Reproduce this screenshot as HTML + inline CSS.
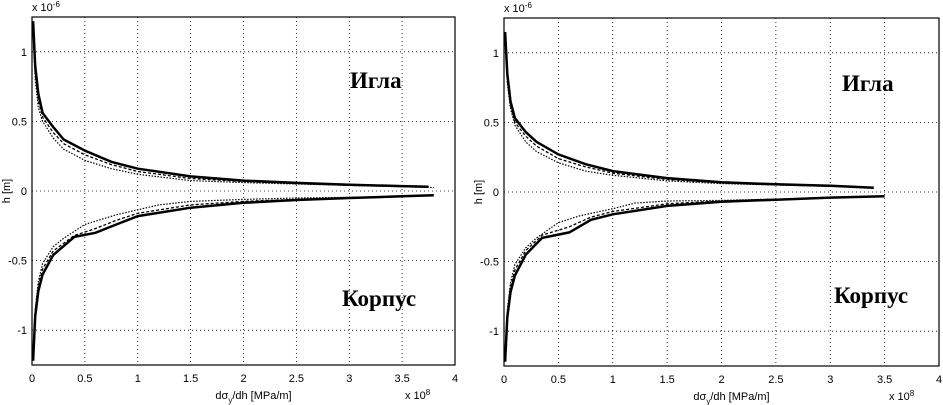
<!DOCTYPE html>
<html><head><meta charset="utf-8"><style>
body{margin:0;background:#fff;width:943px;height:405px;overflow:hidden}
svg{display:block}
text{font-family:"Liberation Sans",sans-serif;font-size:11px;fill:#000}
.lbl{font-family:"Liberation Serif","DejaVu Serif",serif;font-size:23px;font-weight:bold}
</style></head><body>
<svg id="c" width="943" height="405"></svg>
<script>
// shared axis data
const xTicks=[0,0.5,1,1.5,2,2.5,3,3.5,4];
const xTickLabels=["0","0.5","1","1.5","2","2.5","3","3.5","4"];
const yTicks=[-1,-0.5,0,0.5,1];
const yTickLabels=["-1","-0.5","0","0.5","1"];
// left panel series (x in 1e8 MPa/m, h in 1e-6 m)
const L_upSolidX=[0.01,0.03,0.06,0.1,0.2,0.3,0.5,0.75,1,1.5,2,2.5,3,3.5,3.75];
const L_upSolidY=[1.22,0.9,0.7,0.56,0.46,0.37,0.29,0.21,0.16,0.105,0.075,0.058,0.045,0.035,0.03];
const L_upDashX=[0.01,0.03,0.06,0.1,0.2,0.3,0.5,0.75,1,1.5,2,2.5,3,3.5];
const L_upDashY=[1.18,0.85,0.65,0.53,0.42,0.34,0.26,0.19,0.14,0.09,0.068,0.053,0.042,0.033];
const L_upDotX=[0.01,0.03,0.06,0.1,0.2,0.3,0.5,0.75,1,1.5,2,2.5,3,3.5,3.8];
const L_upDotY=[1.15,0.8,0.6,0.5,0.38,0.3,0.22,0.16,0.12,0.075,0.06,0.05,0.04,0.03,0.025];
const L_loSolidX=[0.01,0.03,0.06,0.1,0.2,0.4,0.6,0.8,1,1.5,2,2.5,3,3.5,3.8];
const L_loSolidY=[-1.22,-0.9,-0.72,-0.6,-0.46,-0.33,-0.3,-0.24,-0.18,-0.12,-0.085,-0.065,-0.05,-0.038,-0.03];
const L_loDashX=[0.01,0.03,0.06,0.1,0.2,0.4,0.6,0.8,1,1.5,2,2.5,3];
const L_loDashY=[-1.18,-0.87,-0.68,-0.56,-0.43,-0.32,-0.27,-0.21,-0.16,-0.1,-0.075,-0.06,-0.048];
const L_loDotX=[0.01,0.03,0.06,0.1,0.2,0.3,0.5,0.8,1.2,1.5,2,2.5,3,3.5];
const L_loDotY=[-1.15,-0.85,-0.65,-0.52,-0.4,-0.34,-0.24,-0.17,-0.1,-0.075,-0.06,-0.05,-0.045,-0.04];
// right panel series
const R_upSolidX=[0.01,0.03,0.06,0.1,0.2,0.3,0.5,0.75,1,1.5,2,2.5,3,3.4];
const R_upSolidY=[1.15,0.85,0.65,0.53,0.43,0.36,0.27,0.2,0.15,0.1,0.07,0.055,0.045,0.03];
const R_upDashX=[0.01,0.03,0.06,0.1,0.2,0.3,0.5,0.75,1,1.5,2,2.5,3];
const R_upDashY=[1.12,0.8,0.62,0.5,0.4,0.33,0.24,0.18,0.135,0.09,0.065,0.052,0.042];
const R_upDotX=[0.01,0.03,0.06,0.1,0.2,0.3,0.5,0.75,1,1.5,2,2.5,3];
const R_upDotY=[1.1,0.78,0.6,0.48,0.36,0.29,0.21,0.15,0.12,0.08,0.06,0.05,0.04];
const R_loSolidX=[0.01,0.03,0.06,0.1,0.2,0.35,0.6,0.8,1,1.5,2,2.5,3,3.5];
const R_loSolidY=[-1.22,-0.9,-0.72,-0.6,-0.45,-0.33,-0.29,-0.2,-0.16,-0.1,-0.07,-0.055,-0.04,-0.03];
const R_loDashX=[0.01,0.03,0.06,0.1,0.2,0.35,0.6,0.8,1,1.5,2,2.5];
const R_loDashY=[-1.18,-0.87,-0.68,-0.56,-0.42,-0.31,-0.25,-0.18,-0.14,-0.085,-0.065,-0.052];
const R_loDotX=[0.01,0.03,0.06,0.1,0.2,0.3,0.5,0.7,1,1.2,1.5,2,2.5];
const R_loDotY=[-1.15,-0.85,-0.65,-0.52,-0.4,-0.33,-0.22,-0.17,-0.12,-0.08,-0.065,-0.06,-0.05];

const NS="http://www.w3.org/2000/svg";
const svg=document.getElementById('c');
function mk(t,a,p){const e=document.createElementNS(NS,t);for(const k in a)e.setAttribute(k,a[k]);(p||svg).appendChild(e);return e;}
function panel(id,x0,x1,y0,y1,series,lblX,lblY1,lblY2){
  const g=mk('g',{});
  
  
  const sx=v=>x0+(v-0)/4*(x1-x0);
  const sy=v=>y0+(1.25-v)/2.5*(y1-y0);
  xTicks.forEach((t,i)=>{
    if(i>0&&i<xTicks.length-1){const l=mk('line',{x1:sx(t),x2:sx(t),y1:y0,y2:y1,stroke:'#000','stroke-width':0.8,'stroke-dasharray':'1,3'},g);}
    const tx=mk('text',{x:sx(t),y:y1+17,'text-anchor':'middle'},g);tx.textContent=xTickLabels[i];
    
  });
  yTicks.forEach((t,i)=>{
    const l=mk('line',{x1:x0,x2:x1,y1:sy(t),y2:sy(t),stroke:'#000','stroke-width':0.8,'stroke-dasharray':'1,3'},g);
    
    const tx=mk('text',{x:x0-5,y:sy(t)+4,'text-anchor':'end'},g);tx.textContent=yTickLabels[i];
    
  });
  const box=mk('rect',{x:x0,y:y0,width:x1-x0,height:y1-y0,fill:'none',stroke:'#000','stroke-width':1.2},g);
  
  series.forEach(s=>{
    const d=s.x.map((v,i)=>(i?'L':'M')+sx(v).toFixed(1)+','+sy(s.y[i]).toFixed(1)).join('');
    const p=mk('path',{d:d,fill:'none',stroke:'#000','stroke-width':s.w,'stroke-dasharray':s.dash||''},g);
    
  });
  const e=mk('text',{x:x0,y:y0-6},g);e.innerHTML='x 10<tspan dy="-4" font-size="8">-6</tspan>';
  
  const e2=mk('text',{x:x1-50,y:y1+34},g);e2.innerHTML='x 10<tspan dy="-4" font-size="8">8</tspan>';
  
  const xt=mk('text',{x:(x0+x1)/2+10,y:y1+34,'text-anchor':'middle'},g);xt.innerHTML='d&#963;<tspan dy="4" font-size="8">y</tspan><tspan dy="-4">/dh [MPa/m]</tspan>';
  
  const yt=mk('text',{x:0,y:0,'text-anchor':'middle',transform:`translate(${x0-22},${sy(0)}) rotate(-90)`},g);yt.textContent='h [m]';
  
  const a=mk('text',{x:lblX,y:lblY1,class:'lbl'},g);a.textContent='Игла';
  
  const b=mk('text',{x:lblX-8,y:lblY2,class:'lbl'},g);b.textContent='Корпус';
  
}
panel('left-panel',32,455,17,365,[
 {name:'upper-solid',x:L_upSolidX,y:L_upSolidY,w:2.5},
 {name:'upper-dashed',x:L_upDashX,y:L_upDashY,w:1.3,dash:'3,2'},
 {name:'upper-dotted',x:L_upDotX,y:L_upDotY,w:1.2,dash:'1.5,1.5'},
 {name:'lower-solid',x:L_loSolidX,y:L_loSolidY,w:2.5},
 {name:'lower-dashed',x:L_loDashX,y:L_loDashY,w:1.3,dash:'3,2'},
 {name:'lower-dotted',x:L_loDotX,y:L_loDotY,w:1.2,dash:'1.5,1.5'}
],350,88,306);
panel('right-panel',504,939,18,366,[
 {name:'upper-solid',x:R_upSolidX,y:R_upSolidY,w:2.5},
 {name:'upper-dashed',x:R_upDashX,y:R_upDashY,w:1.3,dash:'3,2'},
 {name:'upper-dotted',x:R_upDotX,y:R_upDotY,w:1.2,dash:'1.5,1.5'},
 {name:'lower-solid',x:R_loSolidX,y:R_loSolidY,w:2.5},
 {name:'lower-dashed',x:R_loDashX,y:R_loDashY,w:1.3,dash:'3,2'},
 {name:'lower-dotted',x:R_loDotX,y:R_loDotY,w:1.2,dash:'1.5,1.5'}
],842,91,303);
</script>
</body></html>
